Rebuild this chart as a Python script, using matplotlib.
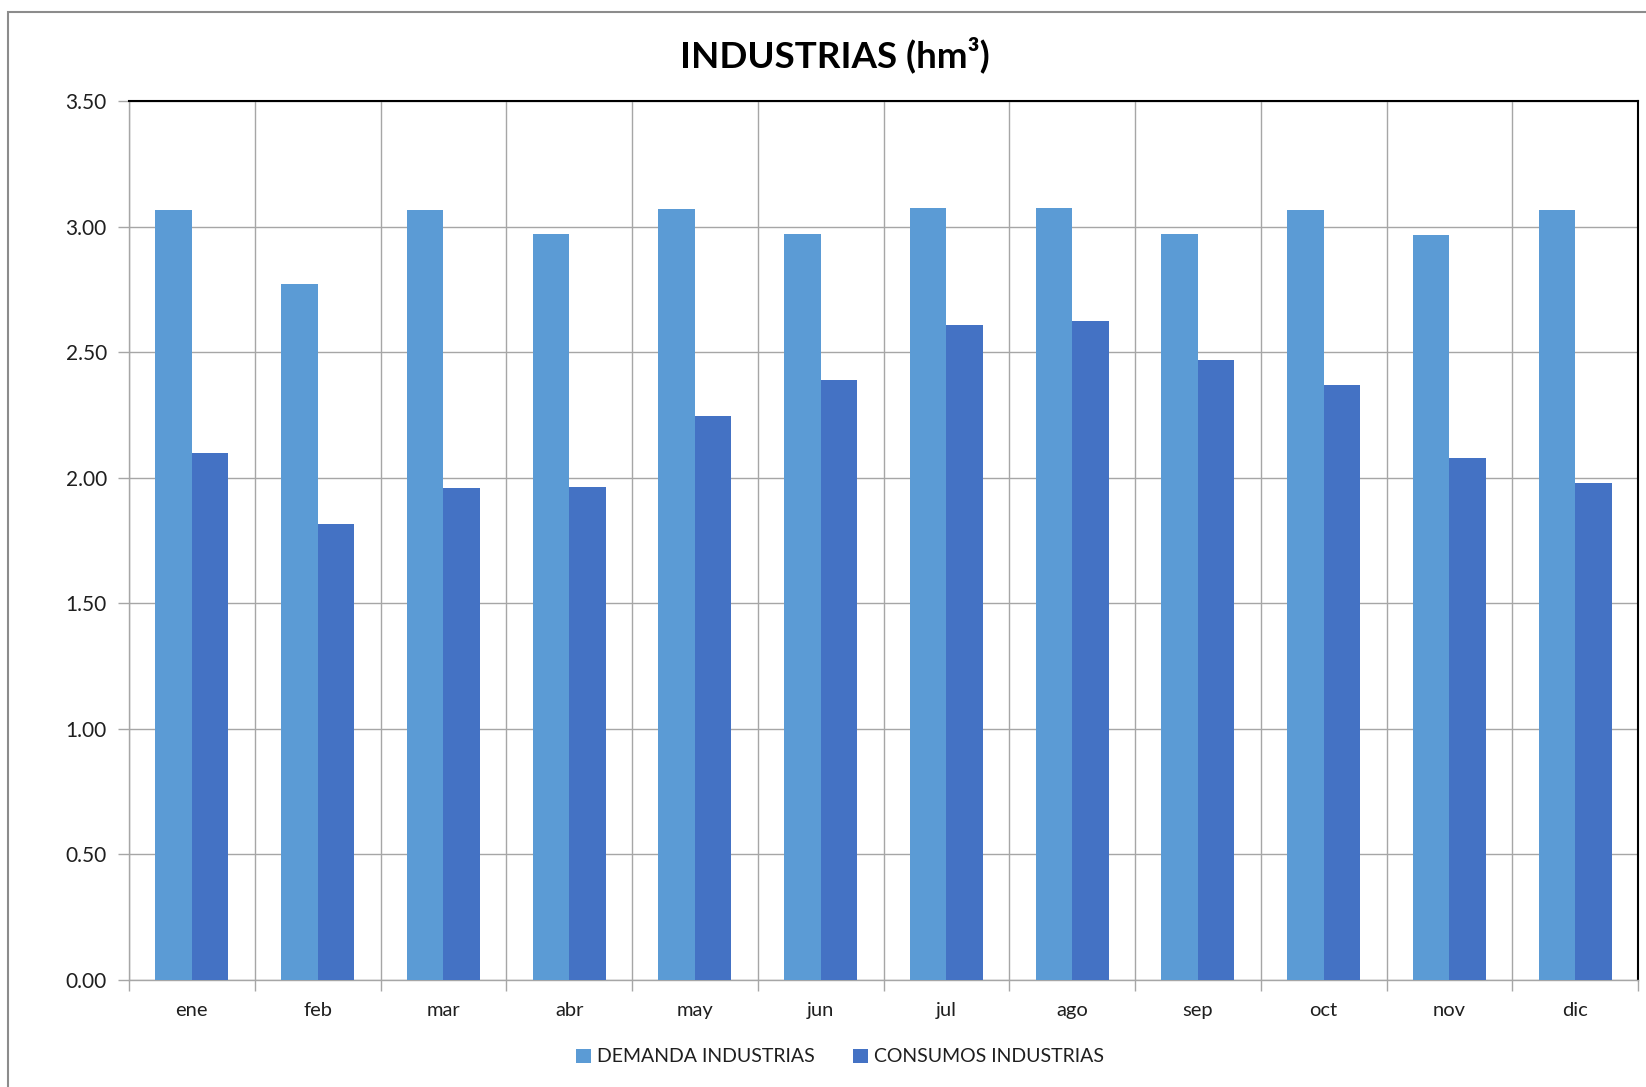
import numpy as np
import matplotlib
matplotlib.use("Agg")
import matplotlib.pyplot as plt
from matplotlib.patches import Rectangle

# Datos mensuales (hm3)
meses = ['ene', 'feb', 'mar', 'abr', 'may', 'jun', 'jul', 'ago', 'sep', 'oct', 'nov', 'dic']
demanda = [3.065, 2.77, 3.065, 2.97, 3.07, 2.97, 3.075, 3.075, 2.97, 3.065, 2.965, 3.065]
consumos = [2.10, 1.815, 1.96, 1.965, 2.245, 2.39, 2.61, 2.625, 2.47, 2.37, 2.08, 1.98]
yticks = [0.0, 0.5, 1.0, 1.5, 2.0, 2.5, 3.0, 3.5]

plt.rcParams['font.family'] = ['Lato', 'DejaVu Sans']

fig = plt.figure(figsize=(16.46, 10.87), dpi=100)
ax = fig.add_axes([129 / 1646, 107 / 1087, (1638 - 129) / 1646, (980 - 101) / 1087])

x = np.arange(len(meses))
w = 0.29
ax.bar(x - w / 2, demanda, w, color='#5B9BD5', label='DEMANDA INDUSTRIAS', zorder=3)
ax.bar(x + w / 2, consumos, w, color='#4472C4', label='CONSUMOS INDUSTRIAS', zorder=3)

ax.set_xlim(-0.5, len(meses) - 0.5)
ax.set_ylim(0, 3.5)
ax.set_yticks(yticks)
ax.set_yticklabels([f'{v:.2f}' for v in yticks])
ax.set_xticks(x)
ax.set_xticklabels(meses)
ax.set_xticks(np.arange(len(meses) + 1) - 0.5, minor=True)

# Cuadricula
ax.grid(axis='y', color='#A6A6A6', linewidth=1, zorder=0)
ax.grid(axis='x', which='minor', color='#A6A6A6', linewidth=1, zorder=0)

ax.tick_params(axis='x', which='major', length=0, pad=16, labelsize=14.5, colors='#1F1F1F')
ax.tick_params(axis='x', which='minor', length=8, width=1, color='#A6A6A6')
ax.tick_params(axis='y', length=8, width=1, color='#A6A6A6', pad=8, labelsize=15, labelcolor='#1F1F1F')

for s in ['left', 'bottom']:
    ax.spines[s].set_color('#A6A6A6')
    ax.spines[s].set_linewidth(1)
for s in ['top', 'right']:
    ax.spines[s].set_color('black')
    ax.spines[s].set_linewidth(1.5)

fig.text(835 / 1646, 1 - 55 / 1087, 'INDUSTRIAS (hm³)', ha='center', va='center',
         fontsize=26.5, fontweight='bold')

fig.legend(loc='center', bbox_to_anchor=(840 / 1646, 1 - 1057 / 1087), ncol=2, frameon=False,
           fontsize=14, handlelength=0.75, handleheight=0.75, handletextpad=0.3, columnspacing=2.0,
           labelcolor='#1F1F1F')

# Marco exterior del grafico
fig.patches.append(Rectangle((8 / 1646, -0.05), 1.1, 1.05 - 12 / 1087, transform=fig.transFigure,
                             fill=False, edgecolor='#8C8C8C', linewidth=1.5))

fig.savefig('out.png', dpi=100)
